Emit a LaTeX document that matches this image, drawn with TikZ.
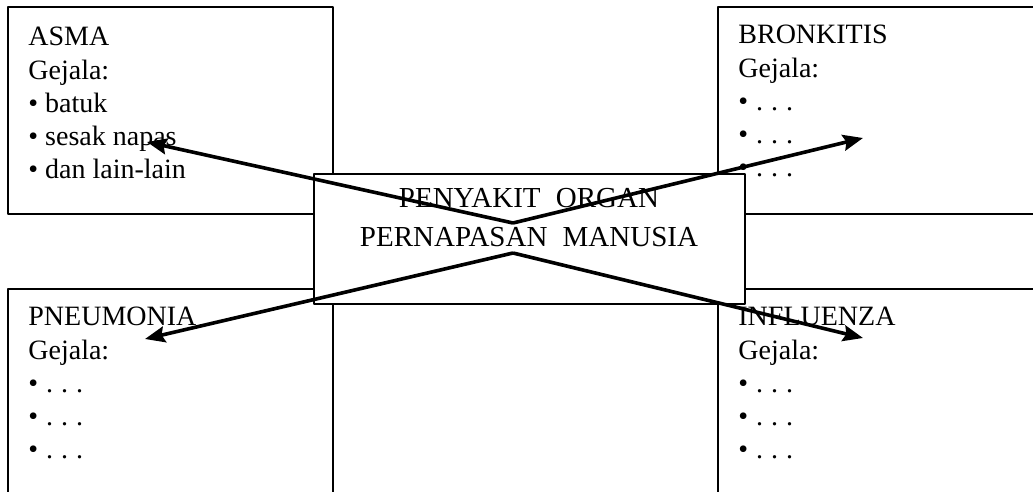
\documentclass[tikz,border=0pt]{standalone}
\usepackage{fontspec}
\setmainfont{Liberation Serif}
\usetikzlibrary{arrows.meta}
\tikzset{
  kotak/.style={draw, line width=0.8pt, fill=white, rectangle, inner sep=0pt, anchor=north west},
  isi/.style={anchor=north west, align=left, inner sep=0pt, font=\fontsize{14}{16.6}\selectfont},
  judul/.style={align=center, inner sep=0pt, font=\fontsize{14.5}{19.5}\selectfont},
  panah/.style={-{Stealth[length=10pt,width=8pt,inset=1.5pt]}, line width=1.8pt},
}
\newcommand{\titik}{\textbullet\hspace{4pt}.\hspace{4pt}.\hspace{4pt}.}
\begin{document}
\begin{tikzpicture}[x=0.5pt, y=-0.5pt, line join=round]
	\useasboundingbox (0,0) rectangle (1033,492);
	% kotak penyakit
	\node[kotak, minimum width=162.5pt, minimum height=103.5pt] (asma) at (7,6) {};
	\node[kotak, minimum width=164pt, minimum height=103.5pt] (bronkitis) at (717,6) {};
	\node[kotak, minimum width=162.5pt, minimum height=116pt] (pneumonia) at (7,288) {};
	\node[kotak, minimum width=164pt, minimum height=116pt] (influenza) at (717,288) {};
	\node[isi] (tasma) at (28,27) {ASMA\\Gejala:\\\textbullet\ batuk\\\textbullet\ sesak napas\\\textbullet\ dan lain-lain};
	\node[isi] (tbronkitis) at (738,25) {BRONKITIS\\Gejala:\\\titik\\\titik\\\titik};
	\node[isi] (tpneumonia) at (28,307) {PNEUMONIA\\Gejala:\\\titik\\\titik\\\titik};
	\node[isi] (tinfluenza) at (738,307) {INFLUENZA\\Gejala:\\\titik\\\titik\\\titik};
	% kotak tengah
	\node[kotak, minimum width=215.5pt, minimum height=65pt] (pusat) at (313,173) {};
	\node[judul] (judul) at (529,218) {PENYAKIT\hspace{4pt} ORGAN\\PERNAPASAN\hspace{4pt} MANUSIA};
	% panah
	\path (513,223) coordinate (atas)
		(513,253) coordinate (bawah)
		(147,142) coordinate (ka)
		(863,138) coordinate (kb)
		(145,339) coordinate (kp)
		(863,338) coordinate (ki);
	\draw[panah] (atas) -- (ka);
	\draw[panah] (atas) -- (kb);
	\draw[panah] (bawah) -- (kp);
	\draw[panah] (bawah) -- (ki);
\end{tikzpicture}
\end{document}
